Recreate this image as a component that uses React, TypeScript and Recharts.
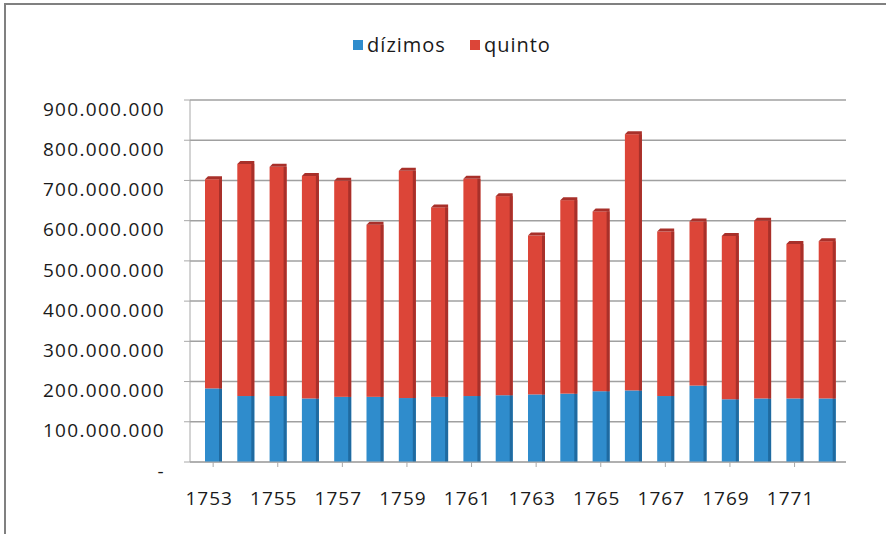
import React from 'react'
import { Bar, BarChart, CartesianGrid, XAxis, YAxis } from 'recharts'

const years = [
  '1753', '1754', '1755', '1756', '1757', '1758', '1759', '1760', '1761', '1762',
  '1763', '1764', '1765', '1766', '1767', '1768', '1769', '1770', '1771', '1772',
]

const dizimos = [
  183000000, 164000000, 164000000, 158000000, 162000000, 162000000, 159000000, 162000000, 164000000, 166000000,
  168000000, 170000000, 176000000, 178000000, 164000000, 190000000, 156000000, 158000000, 158000000, 158000000,
]

const quinto = [
  520000000, 577000000, 570000000, 553000000, 537000000, 428000000, 565000000, 471000000, 540000000, 495000000,
  395000000, 481000000, 447000000, 637000000, 409000000, 408000000, 406000000, 442000000, 384000000, 391000000,
]

const yTicks = [0, 100000000, 200000000, 300000000, 400000000, 500000000, 600000000, 700000000, 800000000, 900000000]

const data = years.map((year, i) => ({ year, dizimos: dizimos[i], quinto: quinto[i] }))

const FONT = '"Open Sans", "Noto Sans", sans-serif'
const BLUE = '#2f8ccc'
const RED = '#dc4538'

const fmt = (v: number) => (v === 0 ? '-' : v.toLocaleString('de-DE'))

const YTick = (props: any) => {
  const { y, payload } = props
  return (
    <text x={165} y={y + 9} dy="0.35em" textAnchor="end" fontFamily={FONT} fontSize={19} letterSpacing={1.3} fill="#1a1a1a">
      {fmt(payload.value)}
    </text>
  )
}

const XTick = (props: any) => {
  const { x, y, payload } = props
  return (
    <text x={x - 4} y={y + 23} dy="0.71em" textAnchor="middle" fontFamily={FONT} fontSize={19} letterSpacing={1} fill="#1a1a1a">
      {payload.value}
    </text>
  )
}

const makeShape = (side: string, cap: boolean) => (props: any) => {
  const { x, y, width, height, fill } = props
  if (!height || height <= 0) return <g />
  return (
    <g>
      <rect x={x} y={y} width={width} height={height} fill={fill} />
      <rect x={x + width - 3} y={y} width={3} height={height} fill={side} />
      {cap && (
        <polygon
          points={`${x},${y} ${x + 3},${y - 3} ${x + width},${y - 3} ${x + width},${y}`}
          fill={side}
        />
      )}
    </g>
  )
}

const LegendBox = () => (
  <div
    style={{
      position: 'absolute',
      left: 0,
      top: 32,
      width: 904,
      display: 'flex',
      justifyContent: 'center',
      alignItems: 'center',
      fontFamily: FONT,
      fontSize: 20,
      letterSpacing: 1,
      color: '#1a1a1a',
      lineHeight: '26px',
    }}
  >
    <span style={{ width: 10, height: 10, background: BLUE, display: 'inline-block', marginRight: 4 }} />
    <span style={{ marginRight: 24 }}>dízimos</span>
    <span style={{ width: 10, height: 10, background: RED, display: 'inline-block', marginRight: 4 }} />
    <span>quinto</span>
  </div>
)

export default function App() {
  return (
    <div style={{ position: 'absolute', left: 0, top: 0, width: 886, height: 534, background: '#fff', overflow: 'hidden' }}>
      <div
        style={{
          position: 'absolute',
          left: 4,
          top: 3,
          width: 900,
          height: 560,
          borderTop: '2px solid #808080',
          borderLeft: '2px solid #808080',
        }}
      />
      <LegendBox />
      <div style={{ position: 'absolute', left: 0, top: 0 }}>
        <BarChart width={886} height={534} data={data} margin={{ top: 100, right: 40, bottom: 12, left: 0 }} barSize={17}>
          <CartesianGrid vertical={false} stroke="#a0a0a0" strokeWidth={1.5} />
          <XAxis
            dataKey="year"
            interval={1}
            height={60}
            padding={{ left: 7, right: 3 }}
            axisLine={{ stroke: '#a8a8a8' }}
            tickLine={{ stroke: '#a8a8a8' }}
            tickSize={5}
            tick={<XTick />}
          />
          <YAxis
            width={190}
            domain={[0, 900000000]}
            ticks={yTicks}
            interval={0}
            axisLine={{ stroke: '#a8a8a8' }}
            tickLine={{ stroke: '#a8a8a8' }}
            tickSize={6}
            tick={<YTick />}
          />
          <Bar dataKey="dizimos" stackId="a" fill={BLUE} shape={makeShape('#1f6aa0', false)} isAnimationActive={false} />
          <Bar dataKey="quinto" stackId="a" fill={RED} shape={makeShape('#a8302a', true)} isAnimationActive={false} />
        </BarChart>
      </div>
    </div>
  )
}
